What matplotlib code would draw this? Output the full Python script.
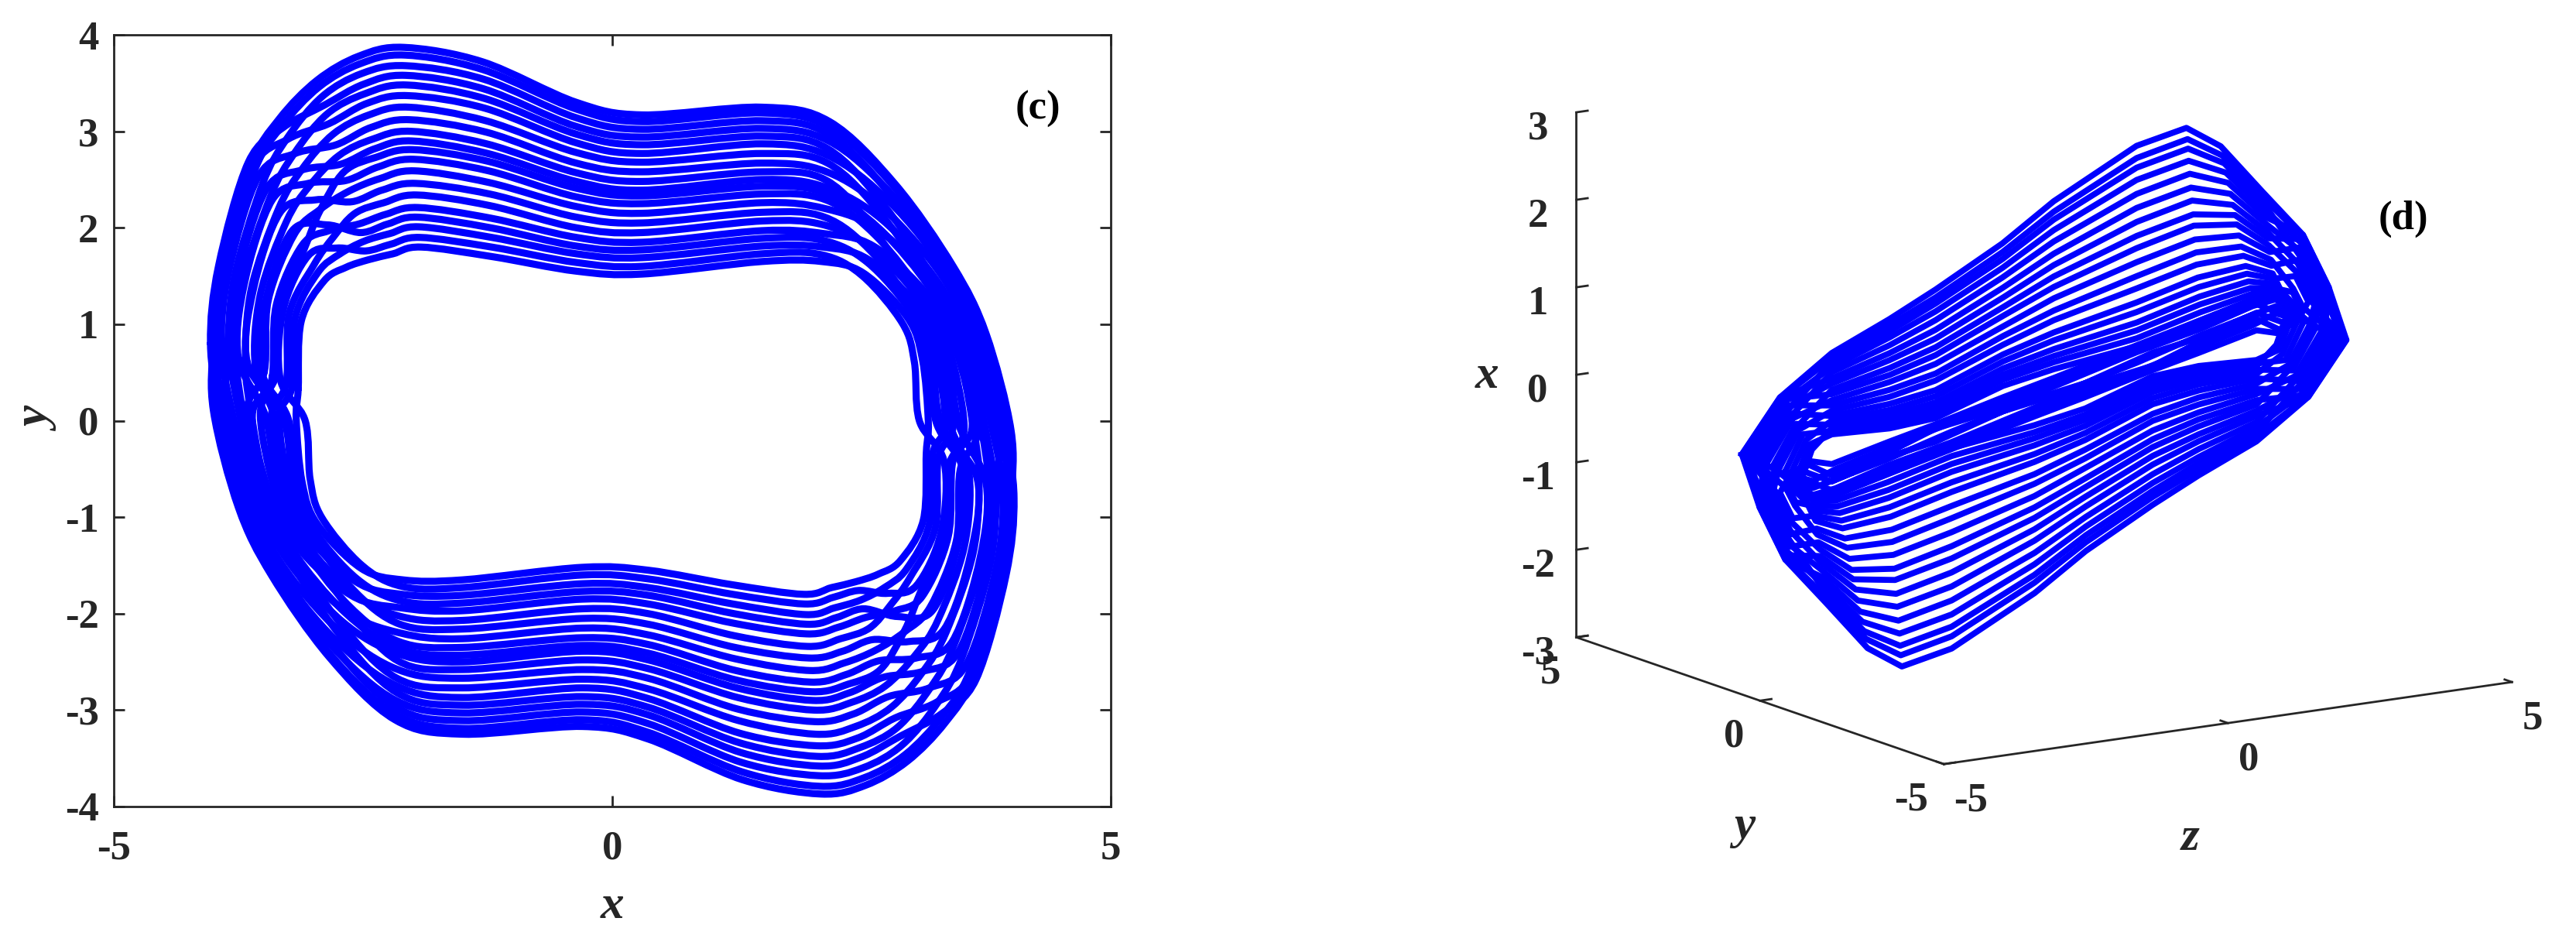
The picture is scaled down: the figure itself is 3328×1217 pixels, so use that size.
import matplotlib
matplotlib.use("Agg")
import matplotlib.pyplot as plt
from matplotlib.path import Path
from matplotlib.patches import PathPatch
import numpy as np

plt.rcParams['font.family'] = ['Liberation Serif', 'DejaVu Serif']
plt.rcParams['font.weight'] = 'bold'
plt.rcParams['axes.labelweight'] = 'bold'
plt.rcParams['axes.unicode_minus'] = False
INK = '#262626'
BLUE = '#0000ff'

# panel (c): half-turns of the orbit, the other half is the odd-symmetric image
c_x = [
 [-3.15,-3.12,-2.89,-2.67,-2.44,-2.20,-1.92,-1.20,-.36,.30,1.50,2.10,2.52,2.96,3.11,3.17],
 [-3.33,-3.30,-3.05,-2.76,-2.47,-2.22,-1.93,-1.21,-.36,.30,1.50,2.10,2.51,2.91,3.03,3.08],
 [-3.21,-3.18,-2.95,-2.73,-2.49,-2.23,-1.94,-1.21,-.36,.30,1.50,2.11,2.57,3.06,3.24,3.34],
 [-3.52,-3.47,-3.21,-2.86,-2.52,-2.25,-1.95,-1.22,-.36,.30,1.50,2.11,2.56,3.00,3.17,3.25],
 [-3.41,-3.37,-3.11,-2.84,-2.54,-2.27,-1.95,-1.22,-.36,.30,1.50,2.12,2.62,3.16,3.38,3.53],
 [-3.27,-3.24,-2.99,-2.80,-2.58,-2.29,-1.96,-1.23,-.36,.30,1.50,2.12,2.61,3.10,3.30,3.42],
 [-3.66,-3.60,-3.33,-2.97,-2.61,-2.31,-1.97,-1.23,-.36,.30,1.50,2.13,2.60,3.03,3.20,3.30],
 [-3.49,-3.45,-3.19,-2.93,-2.64,-2.33,-1.98,-1.24,-.36,.30,1.50,2.13,2.68,3.24,3.49,3.67],
 [-3.75,-3.69,-3.41,-3.05,-2.67,-2.35,-1.99,-1.24,-.36,.30,1.50,2.14,2.65,3.13,3.35,3.48],
 [-3.38,-3.34,-3.09,-2.93,-2.69,-2.37,-2.00,-1.25,-.36,.30,1.50,2.14,2.68,3.20,3.44,3.61],
 [-3.83,-3.76,-3.47,-3.11,-2.72,-2.38,-2.01,-1.25,-.36,.30,1.50,2.14,2.71,3.27,3.55,3.74],
 [-3.58,-3.53,-3.27,-3.04,-2.74,-2.40,-2.02,-1.26,-.36,.30,1.50,2.15,2.66,3.08,3.28,3.39],
 [-3.92,-3.85,-3.55,-3.18,-2.77,-2.42,-2.03,-1.26,-.36,.30,1.50,2.15,2.74,3.32,3.60,3.81],
 [-3.68,-3.62,-3.35,-3.11,-2.80,-2.44,-2.04,-1.27,-.36,.30,1.50,2.16,2.72,3.21,3.46,3.62],
 [-3.98,-3.91,-3.61,-3.25,-2.84,-2.46,-2.05,-1.28,-.36,.30,1.50,2.16,2.78,3.36,3.66,3.89],
 [-3.77,-3.71,-3.43,-3.19,-2.86,-2.48,-2.06,-1.28,-.36,.30,1.50,2.16,2.75,3.25,3.52,3.70],
 [-4.03,-3.95,-3.65,-3.30,-2.89,-2.49,-2.07,-1.29,-.36,.30,1.50,2.17,2.80,3.38,3.70,3.93],
 [-3.86,-3.79,-3.51,-3.26,-2.91,-2.51,-2.07,-1.29,-.36,.30,1.50,2.17,2.80,3.34,3.64,3.86],
 [-3.96,-3.89,-3.59,-3.31,-2.94,-2.53,-2.08,-1.30,-.36,.30,1.50,2.18,2.83,3.40,3.73,3.97],
 [-4.00,-3.92,-3.63,-3.34,-2.96,-2.54,-2.09,-1.30,-.36,.30,1.50,2.18,2.84,3.42,3.75,4.00],
]
c_y = [
 [.33,1.03,1.45,1.59,1.67,1.73,1.80,1.70,1.55,1.52,1.65,1.65,1.53,1.07,.64,-.01],
 [.43,1.15,1.71,1.79,1.76,1.83,1.90,1.80,1.64,1.60,1.73,1.72,1.50,1.01,.61,0],
 [.36,1.07,1.54,1.73,1.86,1.94,2.01,1.90,1.73,1.69,1.81,1.80,1.67,1.18,.69,-.03],
 [.52,1.27,1.97,2.03,1.95,2.04,2.11,2.00,1.81,1.77,1.89,1.87,1.64,1.12,.66,-.02],
 [.46,1.20,1.82,1.97,2.04,2.14,2.21,2.10,1.90,1.85,1.97,1.94,1.81,1.30,.75,-.05],
 [.39,1.11,1.62,1.90,2.15,2.26,2.34,2.23,2.00,1.95,2.07,2.03,1.78,1.23,.71,-.04],
 [.60,1.36,2.16,2.29,2.27,2.39,2.46,2.35,2.11,2.05,2.16,2.11,1.75,1.15,.68,-.03],
 [.51,1.25,1.93,2.19,2.38,2.51,2.59,2.47,2.22,2.15,2.26,2.20,1.97,1.39,.80,-.07],
 [.65,1.42,2.29,2.46,2.49,2.63,2.71,2.59,2.32,2.25,2.35,2.29,1.91,1.27,.74,-.05],
 [.45,1.18,1.78,2.18,2.58,2.73,2.81,2.69,2.41,2.33,2.43,2.36,1.99,1.35,.77,-.06],
 [.69,1.47,2.40,2.60,2.66,2.82,2.90,2.77,2.48,2.39,2.50,2.42,2.08,1.43,.82,-.07],
 [.56,1.31,2.06,2.43,2.75,2.92,3.00,2.87,2.57,2.48,2.58,2.49,1.93,1.21,.70,-.04],
 [.74,1.53,2.53,2.77,2.86,3.04,3.12,2.99,2.67,2.58,2.67,2.58,2.18,1.48,.84,-.08],
 [.61,1.37,2.19,2.61,2.97,3.17,3.25,3.11,2.78,2.68,2.77,2.67,2.11,1.36,.78,-.06],
 [.78,1.57,2.62,2.92,3.08,3.29,3.37,3.24,2.88,2.77,2.87,2.75,2.27,1.53,.86,-.09],
 [.66,1.43,2.32,2.77,3.18,3.39,3.48,3.34,2.97,2.86,2.95,2.82,2.20,1.41,.80,-.07],
 [.80,1.60,2.68,3.04,3.27,3.49,3.58,3.44,3.05,2.94,3.03,2.90,2.35,1.56,.88,-.09],
 [.71,1.49,2.45,2.93,3.36,3.60,3.68,3.54,3.14,3.02,3.11,2.97,2.33,1.51,.86,-.09],
 [.77,1.56,2.59,3.06,3.46,3.70,3.79,3.64,3.23,3.10,3.19,3.04,2.42,1.58,.89,-.10],
 [.79,1.58,2.64,3.13,3.53,3.78,3.87,3.72,3.30,3.17,3.25,3.10,2.45,1.60,.90,-.10],
]

# panel (d): half-turns in (z, y, x)
d_z = [
 [-3.90,-3.65,-3.31,-2.41,-1.69,-.64,.15,1.44,2.46,3.28,3.62,3.80,3.82],
 [-3.85,-3.62,-3.31,-2.41,-1.69,-.64,.15,1.44,2.46,3.28,3.62,3.78,3.80],
 [-3.95,-3.70,-3.31,-2.41,-1.69,-.64,.15,1.44,2.46,3.28,3.62,3.82,3.85],
 [-4.00,-3.72,-3.31,-2.41,-1.69,-.64,.15,1.44,2.46,3.28,3.62,3.85,3.90],
 [-3.80,-3.62,-3.31,-2.41,-1.69,-.64,.15,1.44,2.46,3.28,3.62,3.83,3.86],
 [-4.01,-3.73,-3.31,-2.41,-1.69,-.64,.15,1.44,2.45,3.26,3.61,3.80,3.79],
 [-3.71,-3.57,-3.31,-2.41,-1.69,-.64,.15,1.44,2.44,3.24,3.60,3.87,3.96],
 [-4.23,-3.85,-3.31,-2.41,-1.69,-.64,.15,1.44,2.43,3.21,3.59,3.84,3.89],
 [-3.91,-3.67,-3.31,-2.41,-1.69,-.64,.15,1.44,2.42,3.18,3.58,3.92,4.10],
 [-4.45,-3.96,-3.31,-2.41,-1.69,-.64,.15,1.44,2.40,3.16,3.57,3.82,3.82],
 [-4.12,-3.79,-3.31,-2.41,-1.69,-.64,.15,1.44,2.38,3.12,3.55,3.97,4.25],
 [-4.61,-4.04,-3.31,-2.41,-1.69,-.64,.15,1.44,2.37,3.08,3.54,3.88,4.00],
 [-4.34,-3.90,-3.31,-2.41,-1.69,-.64,.15,1.44,2.35,3.04,3.52,4.01,4.35],
 [-4.72,-4.10,-3.31,-2.41,-1.69,-.64,.15,1.44,2.33,3.00,3.50,3.93,4.14],
 [-4.18,-3.82,-3.31,-2.41,-1.69,-.64,.15,1.44,2.32,2.97,3.49,4.04,4.42],
 [-4.55,-4.02,-3.31,-2.41,-1.69,-.64,.15,1.44,2.30,2.93,3.47,3.96,4.21],
 [-4.77,-4.13,-3.31,-2.41,-1.69,-.65,.15,1.44,2.28,2.89,3.45,4.00,4.32],
 [-4.39,-3.93,-3.31,-2.41,-1.69,-.65,.15,1.44,2.26,2.85,3.44,4.05,4.46],
 [-4.66,-4.07,-3.31,-2.41,-1.69,-.65,.15,1.44,2.24,2.81,3.42,4.02,4.39],
 [-4.50,-3.99,-3.31,-2.41,-1.69,-.65,.15,1.44,2.23,2.78,3.41,3.99,4.28],
 [-4.75,-4.12,-3.31,-2.41,-1.69,-.65,.15,1.44,2.22,2.75,3.39,4.04,4.45],
 [-4.77,-4.13,-3.31,-2.41,-1.69,-.65,.15,1.44,2.20,2.72,3.38,4.05,4.46],
]
d_x = [
 [-.66,-.50,-.55,-.35,-.20,.04,.21,.50,.72,.90,.93,.85,.75],
 [-.62,-.55,-.68,-.47,-.25,-.08,.11,.42,.62,.82,.88,.78,.72],
 [-.70,-.62,-.75,-.52,-.40,-.12,.01,.30,.55,.72,.80,.72,.70],
 [-.75,-.70,-.85,-.68,-.49,-.26,-.09,.20,.42,.60,.72,.66,.68],
 [-.67,-.32,-.21,-.20,-.13,.17,.31,.49,.72,.89,.91,.81,.73],
 [-.60,-.19,-.17,-.15,-.07,.24,.39,.58,.81,.96,.96,.72,.70],
 [-.70,-.38,-.14,-.10,-.01,.30,.46,.67,.90,1.03,1.01,.95,.77],
 [-.52,-.06,-.10,-.05,.05,.37,.54,.76,.99,1.11,1.06,.85,.74],
 [-.63,-.26,-.05,.01,.12,.45,.64,.88,1.10,1.20,1.12,1.13,.83],
 [-.44,.07,0,.08,.19,.53,.73,.99,1.21,1.29,1.18,.76,.72],
 [-.56,-.13,.06,.16,.30,.64,.87,1.15,1.36,1.41,1.27,1.31,.88],
 [-.39,.17,.12,.24,.38,.74,.98,1.29,1.50,1.52,1.34,.99,.78],
 [-.48,.01,.18,.33,.49,.85,1.12,1.45,1.65,1.65,1.43,1.45,.92],
 [-.35,.24,.25,.41,.59,.97,1.25,1.61,1.81,1.78,1.51,1.18,.84],
 [-.54,-.09,.30,.49,.68,1.07,1.37,1.75,1.94,1.89,1.59,1.54,.95],
 [-.41,.14,.37,.58,.78,1.18,1.50,1.91,2.10,2.01,1.67,1.27,.87],
 [-.33,.27,.43,.66,.88,1.29,1.63,2.07,2.25,2.14,1.76,1.41,.91],
 [-.46,.04,.50,.75,.99,1.41,1.77,2.23,2.41,2.27,1.84,1.59,.96],
 [-.37,.20,.56,.84,1.09,1.52,1.90,2.39,2.56,2.39,1.93,1.50,.93],
 [-.43,.11,.62,.91,1.18,1.62,2.02,2.53,2.70,2.50,2.00,1.36,.89],
 [-.34,.26,.66,.98,1.25,1.70,2.11,2.64,2.81,2.59,2.07,1.57,.95],
 [-.33,.27,.72,1.05,1.34,1.80,2.23,2.78,2.94,2.70,2.14,1.59,.96],
]
d_y = [.85,.80,.66,.48,.34,.13,-.03,-.29,-.47,-.60,-.70,-.78,-.85]

c_xticks = [-5, 0, 5]
c_yticks = [-4, -3, -2, -1, 0, 1, 2, 3, 4]
d_ground_ticks = [-5, 0, 5]
d_xticks = [-3, -2, -1, 0, 1, 2, 3]


def closed(half):
    h = np.asarray(half, float)
    return np.concatenate([h, -h, h[:1]])


def smooth_path(xs, ys):
    """A closed Bezier path through the given points."""
    p = np.column_stack([xs, ys])[:-1]
    n = len(p)
    verts = [p[0]]
    codes = [Path.MOVETO]
    for i in range(n):
        a, b, c, d = p[i - 1], p[i], p[(i + 1) % n], p[(i + 2) % n]
        verts += [b + (c - a) / 6, c - (d - b) / 6, c]
        codes += [Path.CURVE4] * 3
    return Path(np.array(verts), codes)


W, H = 3328, 1217
fig = plt.figure(figsize=(W / 100, H / 100), dpi=100, facecolor='white')

# ---------- panel c
ax = fig.add_axes([147 / W, 1 - 1042 / H, (1435 - 147) / W, (1042 - 45) / H])
for xs, ys in zip(c_x, c_y):
    ax.add_patch(PathPatch(smooth_path(closed(xs), closed(ys)), fc='none',
                           ec=BLUE, lw=6.6, capstyle='round', joinstyle='round'))
ax.set_xlim(-5, 5)
ax.set_ylim(-4, 4)
ax.set_xticks(c_xticks)
ax.set_yticks(c_yticks)
ax.tick_params(direction='in', length=10, width=2, top=True, right=True,
               labelsize=38, color=INK, labelcolor=INK)
ax.tick_params(axis='x', pad=22)
ax.tick_params(axis='y', pad=14)
for s in ax.spines.values():
    s.set_linewidth(2)
    s.set_color(INK)
ax.set_xlabel('x', fontsize=44, style='italic', color=INK, labelpad=16)
ax.set_ylabel('y', fontsize=44, style='italic', color=INK, labelpad=3)
ax.text(4.27, 3.23, '(c)', fontsize=38, ha='center', va='center', color='black')

# ---------- panel d
ax3 = fig.add_axes([1936 / W, 1 - 1078 / H, 1380 / W, 1100 / H], projection='3d')
ax3.set_proj_type('ortho')
ax3.view_init(elev=12.9, azim=-122.9)
ax3.set_box_aspect((872, 872, 694), zoom=1.252)
for zs, xs in zip(d_z, d_x):
    ax3.plot(closed(zs), closed(d_y), closed(xs), color=BLUE, lw=5.6,
             solid_joinstyle='round')
ax3.set_xlim(-5, 5, view_margin=0)
ax3.set_ylim(-5, 5, view_margin=0)
ax3.set_zlim(-3, 3, view_margin=0)
ax3.set_xticks(d_ground_ticks)
ax3.set_yticks(d_ground_ticks)
ax3.set_zticks(d_xticks)
ax3.grid(False)
ax3.patch.set_alpha(0)
for a in (ax3.xaxis, ax3.yaxis, ax3.zaxis):
    a.pane.set_visible(False)
    a.line.set_color(INK)
    a.line.set_linewidth(2)
    a._axinfo['tick']['inward_factor'] = 0
    a._axinfo['tick']['outward_factor'] = 0.25
    a._axinfo['tick']['linewidth'] = {True: 2, False: 2}
    a._axinfo['tick']['color'] = INK
ax3.tick_params(labelsize=38, colors=INK)
ax3.zaxis.set_tick_params(pad=9)
for t in ax3.yaxis.get_ticklabels():
    t.set_ha('right')
for t in ax3.xaxis.get_ticklabels():
    t.set_ha('left')
label_style = dict(fontsize=44, style='italic', weight='bold', color=INK,
                   ha='center', va='center')
fig.text(1333 / 1568, 1 - 510 / 573, 'z', **label_style)
fig.text(1062 / 1568, 1 - 503 / 573, 'y', **label_style)
fig.text(905 / 1568, 1 - 229 / 573, 'x', **label_style)
fig.text(1463 / 1568, 1 - 133 / 573, '(d)', fontsize=38, ha='center', va='center', color='black')

fig.savefig('out.png', dpi=100)
